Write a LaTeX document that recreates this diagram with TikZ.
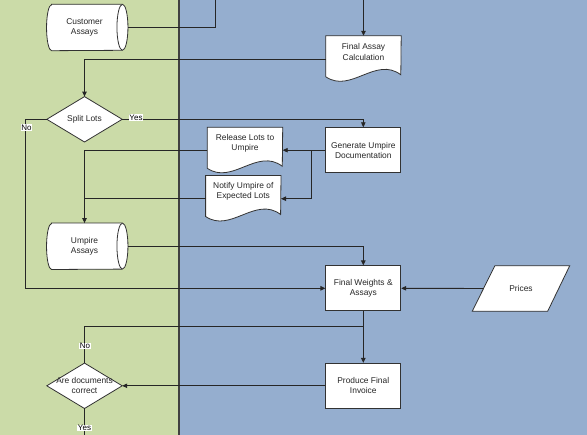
\documentclass[tikz,border=0pt]{standalone}
\usepackage{fontspec}
\setmainfont{Liberation Sans}
\usetikzlibrary{arrows.meta,calc}
\pgfdeclarelayer{bg}\pgfdeclarelayer{shp}
\pgfsetlayers{bg,shp,main}
\definecolor{lanegreen}{RGB}{203,219,168}
\definecolor{laneblue}{RGB}{149,174,207}
\definecolor{edgec}{RGB}{50,50,50}
\tikzset{
 base/.style={inner sep=0pt, align=center, font=\fontsize{8.4}{10.2}\selectfont, text=black!85},
 procbox/.style={base, draw=edgec, fill=white, line width=0.8pt, minimum width=75pt, minimum height=45pt},
 docbox/.style={base, minimum width=75pt, minimum height=32pt},
 cylbox/.style={base, minimum width=75.5pt, minimum height=46pt},
 decbox/.style={base, minimum width=75pt, minimum height=45pt},
 iobox/.style={base, minimum width=75pt, minimum height=45pt},
 outline/.style={draw=edgec, fill=white, line width=0.8pt},
 conn/.style={draw=black!85, line width=0.9pt},
 arr/.style={conn, -{Triangle[length=5pt,width=4.5pt]}},
 lbl/.style={fill=white, inner sep=0.6pt, font=\fontsize{8}{9}\selectfont},
}
\begin{document}
\begin{tikzpicture}[x=1pt,y=-1pt]
\useasboundingbox (0,0) rectangle (587,435);
\begin{pgfonlayer}{bg}
\fill[lanegreen] (0,0) rectangle (179,435);
\fill[laneblue] (179,0) rectangle (587,435);
\draw[line width=1.6pt, draw=black!75] (179,0) -- (179,435);
\end{pgfonlayer}

\node[cylbox] (ca) at (84.5,27.5) {Customer\\Assays};
\node[docbox] (fac) at (363.5,52) {Final Assay\\Calculation};
\node[decbox] (split) at (84.5,119.3) {Split Lots};
\node[procbox] (gen) at (363.3,150.2) {Generate Umpire\\Documentation};
\node[docbox] (rel) at (245,143.5) {Release Lots to\\Umpire};
\node[docbox] (ntf) at (243.3,191.7) {Notify Umpire of\\Expected Lots};
\node[cylbox] (ua) at (84.5,246.3) {Umpire\\Assays};
\node[procbox] (fwa) at (363.3,288.3) {Final Weights \&\\Assays};
\node[iobox] (pr) at (521,288.5) {Prices};
\node[procbox] (pfi) at (363.3,385.8) {Produce Final\\Invoice};
\node[decbox] (adc) at (84.5,385.8) {Are documents\\correct};

\begin{pgfonlayer}{shp}
\foreach \n in {ca,ua}{
 \draw[outline] ([xshift=5pt]\n.north west) -- (\n.north east)
   arc[start angle=90,end angle=-90,x radius=5.5pt,y radius=23pt]
   -- ([xshift=5pt]\n.south west)
   arc[start angle=270,end angle=90,x radius=5pt,y radius=23pt] -- cycle;
 \draw[outline, fill=none] (\n.north east) arc[start angle=90,end angle=270,x radius=5.5pt,y radius=23pt];
}
\foreach \n in {fac,rel,ntf}{
 \draw[outline] (\n.north west) -- (\n.north east) -- ($(\n.north west)+(75,39)$)
   .. controls ($(\n.north west)+(50,20)$) and ($(\n.north west)+(25,58)$) .. ($(\n.north west)+(0,41)$) -- cycle;
}
\foreach \n in {split,adc}{
 \draw[outline] (\n.north) -- (\n.east) -- (\n.south) -- (\n.west) -- cycle;
}
\draw[outline] ($(pr.north west)+(11.5,0)$) -- ($(pr.north east)+(11,0)$) -- ($(pr.south east)+(-11,0)$) -- ($(pr.south west)+(-11,0)$) -- cycle;
\end{pgfonlayer}

\coordinate (t1) at (215,0);
\coordinate (t2) at (363.5,0);
\draw[conn] (t1) |- ([xshift=5.5pt]ca.east);
\draw[arr] (t2) -- (fac.north);
\draw[arr] ([yshift=-7pt]fac.west) -| (split.north);
\draw[arr] (split.east) -| (gen.north);
\draw[arr] (split.west) -- ++(-21,0) |- (fwa.west);
\draw[arr] (gen.west) -- (gen.west -| rel.east);
\coordinate (gb) at ([xshift=-14pt]gen.west);
\coordinate (ne) at ([yshift=-7pt]ntf.east);
\draw[arr] (gb) |- (ne);
\coordinate (rw) at ([yshift=-7pt]rel.west);
\draw[arr] (rw) -| (ua.north);
\coordinate (nw) at ([yshift=-7pt]ntf.west);
\draw[conn] (nw) -- (nw -| ua.north);
\draw[arr] ([xshift=5.5pt]ua.east) -| (fwa.north);
\draw[arr] (pr.west) -- (fwa.east);
\draw[arr] (fwa.south) -- (pfi.north);
\coordinate (jn) at ($(fwa.south)+(0,15)$);
\draw[conn] (adc.north) |- (jn);
\draw[arr] (pfi.west) -- (adc.east);
\coordinate (bt) at (84.5,435);
\draw[conn] (adc.south) -- (bt);

\node[lbl] (yes1) at (136,117.3) {Yes};
\node[lbl] (no1) at (26.5,127.7) {No};
\node[lbl] (no2) at (85,346) {No};
\node[lbl] (yes2) at (84.5,428) {Yes};
\end{tikzpicture}
\end{document}
